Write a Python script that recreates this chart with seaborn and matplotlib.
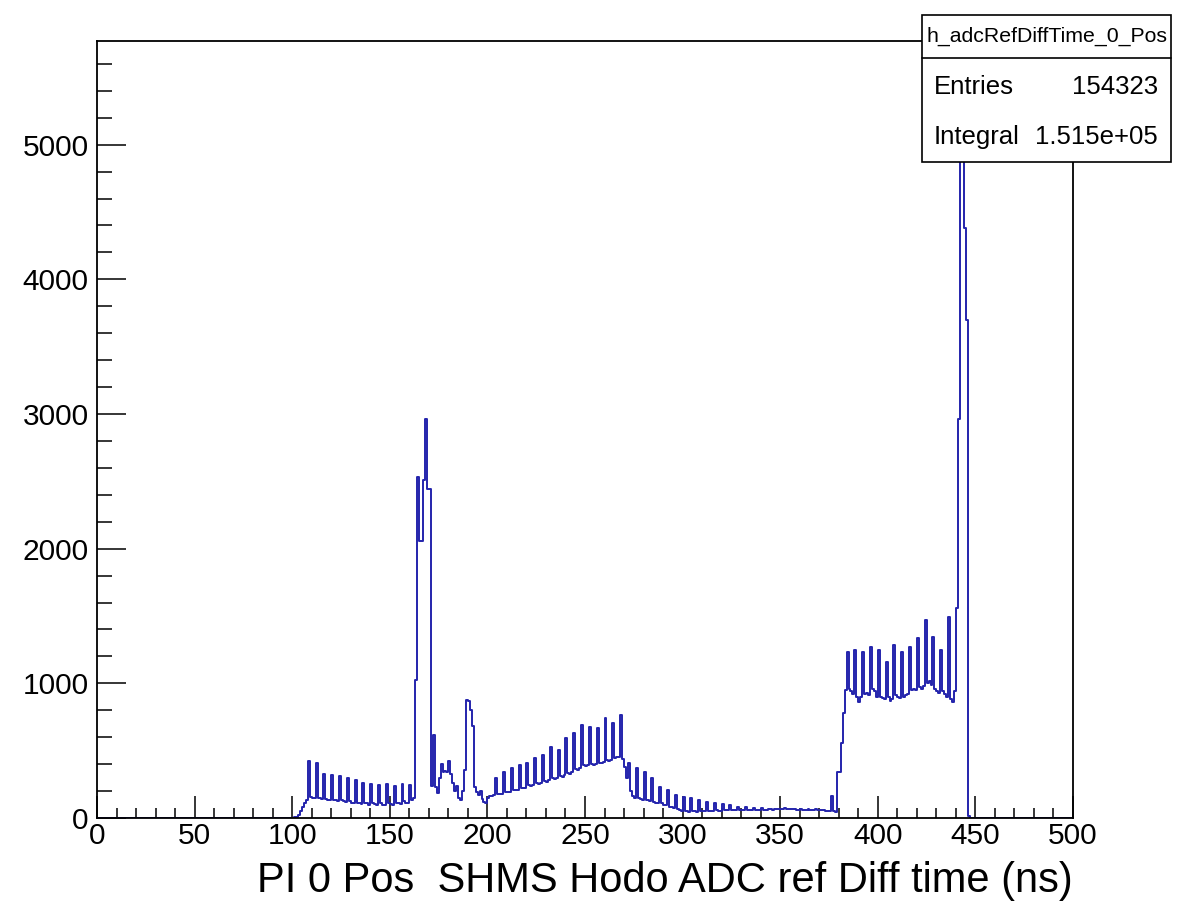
import numpy as np
import pandas as pd
import matplotlib
matplotlib.use("Agg")
import matplotlib.pyplot as plt
from matplotlib.patches import Rectangle
from matplotlib.lines import Line2D
from matplotlib.ticker import MultipleLocator
import seaborn as sns

# ---------------- data (1 ns bins) ----------------
x_min, x_max = 0, 500
first_filled_bin = 100
counts_100_163 = [2, 4, 10, 25, 50, 80, 110, 135,
                  420, 155, 150, 150, 410, 150, 145, 140,
                  330, 140, 135, 130, 320, 135, 130, 125,
                  310, 130, 125, 120, 295, 125, 115, 110,
                  285, 115, 110, 105, 260, 115, 110, 100,
                  250, 110, 105, 100, 245, 110, 100, 95,
                  255, 110, 105, 100, 240, 115, 110, 105,
                  250, 125, 115, 110, 245, 130, 145, 1025]
counts_164_199 = [2530, 2060, 2060, 2510, 2960, 2440, 2440, 240,
                  617, 230, 185, 300, 400, 340, 350, 340,
                  420, 330, 260, 200, 240, 150, 130, 200,
                  357, 877, 870, 800, 680, 230, 190, 170,
                  200, 140, 120, 110]
counts_200_271 = [150, 160, 165, 170, 297, 180, 175, 180,
                  344, 195, 190, 195, 371, 210, 205, 210,
                  394, 225, 220, 225, 408, 245, 240, 245,
                  446, 260, 255, 260, 468, 275, 270, 280,
                  530, 295, 290, 300, 505, 310, 305, 320,
                  592, 335, 330, 345, 634, 365, 360, 375,
                  691, 395, 385, 390, 678, 400, 390, 400,
                  668, 410, 405, 415, 741, 430, 420, 430,
                  708, 445, 450, 455, 765, 440, 380, 300]
counts_272_383 = [408, 200, 160, 150, 370, 145, 140, 135,
                  344, 135, 130, 125, 297, 120, 115, 110,
                  230, 110, 100, 95, 208, 85, 80, 75,
                  171, 65, 60, 55, 158, 55, 50, 48,
                  149, 52, 50, 48, 134, 55, 52, 50,
                  121, 55, 52, 50, 111, 58, 55, 55,
                  105, 60, 58, 58, 95, 62, 60, 60,
                  85, 62, 60, 62, 80, 62, 60, 62,
                  75, 63, 62, 63, 72, 63, 62, 63,
                  70, 65, 63, 64, 70, 65, 64, 65,
                  72, 66, 65, 66, 70, 64, 62, 63,
                  68, 62, 60, 62, 66, 60, 58, 60,
                  64, 58, 56, 57, 60, 55, 52, 55,
                  160, 50, 48, 344, 344, 555, 778, 951]
counts_384_449 = [1236, 960, 940, 920, 1248, 900, 860, 900,
                  1236, 920, 930, 910, 1273, 960, 940, 900,
                  1248, 900, 890, 880, 1161, 900, 870, 880,
                  1285, 910, 900, 890, 1236, 900, 910, 920,
                  1273, 950, 960, 950, 1335, 970, 960, 980,
                  1471, 1000, 1020, 990, 1347, 960, 940, 930,
                  1248, 940, 920, 900, 1496, 880, 860, 940,
                  1558, 2960, 5495, 5300, 4380, 3700, 12, 0,
                  0, 0]

x_ticks_major = [0, 50, 100, 150, 200, 250, 300, 350, 400, 450, 500]
y_ticks_major = [0, 1000, 2000, 3000, 4000, 5000]
y_top = 5770
x_label = "PI 0 Pos  SHMS Hodo ADC ref Diff time (ns)"
stats_title = "h_adcRefDiffTime_0_Pos"
stats_rows = [("Entries", "154323"), ("Integral", "1.515e+05")]

# ---------------- build histogram table ----------------
n_bins = x_max - x_min
counts = np.zeros(n_bins)
filled = counts_100_163 + counts_164_199 + counts_200_271 + counts_272_383 + counts_384_449
counts[first_filled_bin:first_filled_bin + len(filled)] = filled
centers = np.arange(x_min, x_max) + 0.5
df = pd.DataFrame({"t": centers, "w": counts})

# ---------------- style ----------------
sns.set_style("ticks")
plt.rcParams["font.family"] = ["Liberation Sans", "DejaVu Sans"]
plt.rcParams["text.color"] = "black"
plt.rcParams["xtick.color"] = "black"
plt.rcParams["ytick.color"] = "black"
plt.rcParams["axes.labelcolor"] = "black"

W, H = 1184, 909
fig = plt.figure(figsize=(W / 100, H / 100), dpi=100)
ax = fig.add_axes([97 / W, 1 - 818 / H, (1073 - 97) / W, (818 - 41) / H])

sns.histplot(data=df, x="t", weights="w", bins=n_bins, binrange=(x_min, x_max),
             element="step", fill=False, color="#2424ac", linewidth=1.4, ax=ax)

ax.set_xlim(x_min, x_max)
ax.set_ylim(0, y_top)
ax.set_xticks(x_ticks_major)
ax.set_yticks(y_ticks_major)
ax.xaxis.set_minor_locator(MultipleLocator(10))
ax.yaxis.set_minor_locator(MultipleLocator(200))
ax.tick_params(axis="x", which="major", direction="in", length=16, width=1.1,
               labelsize=21.5, pad=3, top=False)
ax.tick_params(axis="x", which="minor", direction="in", length=7, width=1.1, top=False)
ax.tick_params(axis="y", which="major", direction="in", length=21, width=1.1,
               labelsize=21.5, pad=6, right=False)
ax.tick_params(axis="y", which="minor", direction="in", length=10.5, width=1.1, right=False)
for s in ax.spines.values():
    s.set_visible(True)
    s.set_linewidth(1.3)
    s.set_color("black")
ax.set_ylabel("")
ax.set_xlabel(x_label, fontsize=30, loc="right", labelpad=8)

# ---------------- stats box ----------------
bx0, by0, bx1, by1 = 922, 15, 1171, 162
fig.add_artist(Rectangle((bx0 / W, 1 - by1 / H), (bx1 - bx0) / W, (by1 - by0) / H,
                         transform=fig.transFigure, facecolor="white",
                         edgecolor="black", linewidth=1.2, zorder=5))
fig.add_artist(Line2D([bx0 / W, bx1 / W], [1 - 58 / H, 1 - 58 / H],
                      transform=fig.transFigure, color="black", linewidth=1.2, zorder=6))
fig.text((bx0 + bx1) / 2 / W, 1 - 36 / H, stats_title, ha="center", va="center",
         fontsize=15.3, zorder=7)
for i, (lab, val) in enumerate(stats_rows):
    yy = 1 - (87 + 50 * i) / H
    fig.text(934 / W, yy, lab, ha="left", va="center", fontsize=18.5, zorder=7)
    fig.text(1158 / W, yy, val, ha="right", va="center", fontsize=18.5, zorder=7)

fig.savefig("out.png", dpi=100, facecolor="white")
